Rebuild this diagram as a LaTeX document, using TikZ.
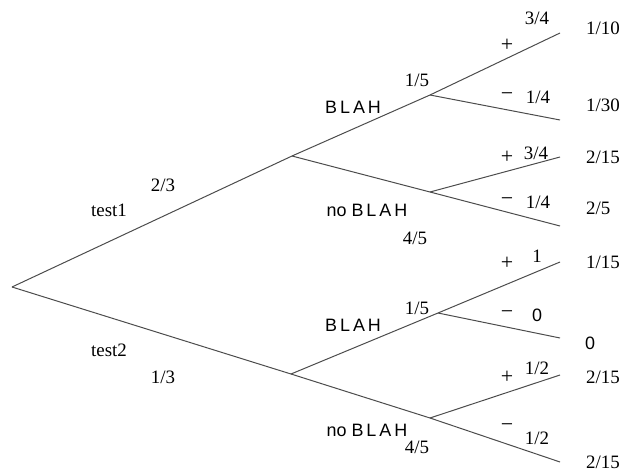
\documentclass[tikz,border=0pt]{standalone}
\usepackage{fontspec}
\setmainfont{Liberation Serif}
\newfontfamily\sansf{Liberation Sans}
\begin{document}
\begin{tikzpicture}[x=1bp,y=-1bp,
  branch/.style={draw=black!70,line width=1bp},
  lab/.style={inner sep=0pt,font=\fontsize{19}{21}\selectfont},
  sign/.style={inner sep=0pt,font=\fontsize{22}{24}\selectfont},
  slab/.style={inner sep=0pt,font=\sansf\fontsize{18}{20}\selectfont},
  leaf/.style={inner sep=0pt,anchor=west,font=\fontsize{19}{21}\selectfont}]
\useasboundingbox (0,0) rectangle (628,473);
% tree points
\coordinate (r) at (12,287);
\coordinate (a) at (292,156);
\coordinate (b) at (291,374);
\coordinate (a1) at (430,95);
\coordinate (a2) at (430,192);
\coordinate (b1) at (438,313);
\coordinate (b2) at (430,418);
\coordinate (l1) at (560,33);
\coordinate (l2) at (560,120);
\coordinate (l3) at (560,157);
\coordinate (l4) at (560,226);
\coordinate (l5) at (560,262);
\coordinate (l6) at (560,338);
\coordinate (l7) at (560,375);
\coordinate (l8) at (560,462);
% branches
\draw[branch] (r) -- (a);
\draw[branch] (r) -- (b);
\draw[branch] (a) -- (a1);
\draw[branch] (a) -- (a2);
\draw[branch] (b) -- (b1);
\draw[branch] (b) -- (b2);
\draw[branch] (a1) -- (l1);
\draw[branch] (a1) -- (l2);
\draw[branch] (a2) -- (l3);
\draw[branch] (a2) -- (l4);
\draw[branch] (b1) -- (l5);
\draw[branch] (b1) -- (l6);
\draw[branch] (b2) -- (l7);
\draw[branch] (b2) -- (l8);
% first level labels
\node[lab] (p23) at (163,185) {2/3};
\node[lab] (t1) at (109,210) {test1};
\node[lab] (t2) at (109,350) {test2};
\node[lab] (p13) at (163,377) {1/3};
% second level labels
\node[slab] (bl1) at (353,107) {B\,L\,A\,H};
\node[lab] (p15a) at (417,80) {1/5};
\node[slab] (nb1) at (367,210) {no B\,L\,A\,H};
\node[lab] (p45a) at (415,238) {4/5};
\node[slab] (bl2) at (353,325) {B\,L\,A\,H};
\node[lab] (p15b) at (417,308) {1/5};
\node[slab] (nb2) at (367,430) {no B\,L\,A\,H};
\node[lab] (p45b) at (417,447) {4/5};
% third level labels
\node[sign] (s1) at (507,45) {+};
\node[lab] (q1) at (537,18) {3/4};
\node[sign] (s2) at (507,97) {−};
\node[lab] (q2) at (538,97) {1/4};
\node[sign] (s3) at (507,157) {+};
\node[lab] (q3) at (536,153) {3/4};
\node[sign] (s4) at (507,202) {−};
\node[lab] (q4) at (538,202) {1/4};
\node[sign] (s5) at (507,263) {+};
\node[lab] (q5) at (537,256) {1};
\node[sign] (s6) at (507,315) {−};
\node[slab] (q6) at (537,315) {0};
\node[sign] (s7) at (507,377) {+};
\node[lab] (q7) at (537,368) {1/2};
\node[sign] (s8) at (507,428) {−};
\node[lab] (q8) at (537,438) {1/2};
% leaves
\node[leaf] (v1) at (586,28) {1/10};
\node[leaf] (v2) at (586,105) {1/30};
\node[leaf] (v3) at (586,157) {2/15};
\node[leaf] (v4) at (586,208) {2/5};
\node[leaf] (v5) at (586,262) {1/15};
\node[slab,anchor=west] (v6) at (585,343) {0};
\node[leaf] (v7) at (586,377) {2/15};
\node[leaf] (v8) at (586,462) {2/15};
\end{tikzpicture}
\end{document}
